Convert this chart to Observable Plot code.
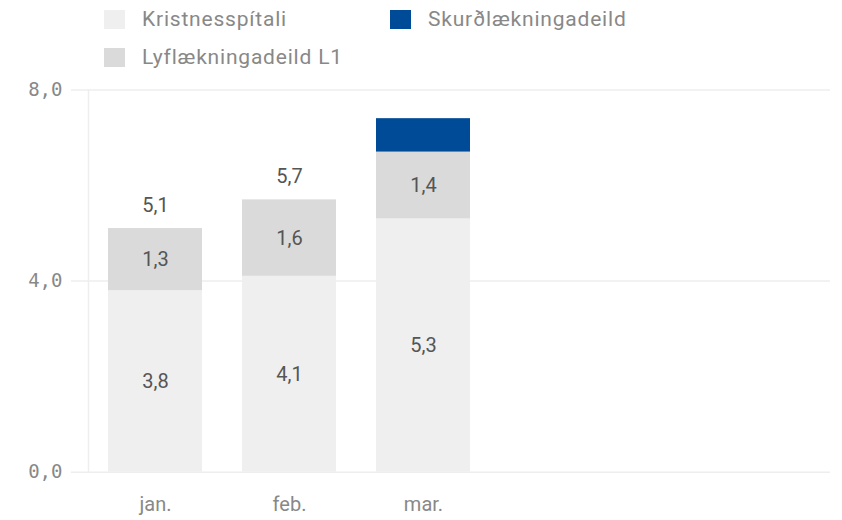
<!DOCTYPE html>
<html>
<head>
<meta charset="utf-8">
<script src="https://cdn.jsdelivr.net/npm/d3@7"></script>
<script src="https://cdn.jsdelivr.net/npm/@observablehq/plot@0.6"></script>
<style>
  html, body { margin: 0; padding: 0; background: #fff; }
  body { width: 842px; height: 520px; overflow: hidden; font-family: Roboto, "Noto Sans", sans-serif; }
  #legend { display: flex; flex-wrap: wrap; padding-left: 104px; height: 72px; box-sizing: border-box; }
  .item { width: 286px; height: 38px; display: flex; align-items: center; color: #888; font-size: 21px; letter-spacing: 0.8px; }
  .sw { width: 21px; height: 19px; margin-right: 17px; flex: none; }
</style>
</head>
<body>
<div id="legend"></div>
<div id="chart"></div>
<script>
const months = ["jan.", "feb.", "mar."];
const seriesNames = ["Kristnesspítali", "Skurðlækningadeild", "Lyflækningadeild L1"];
const stackOrder = ["Kristnesspítali", "Lyflækningadeild L1", "Skurðlækningadeild"];
const seriesColors = ["#efefef", "#004b97", "#dadada"];
const kristnes = [3.8, 4.1, 5.3];
const lyf = [1.3, 1.6, 1.4];
const skurd = [0, 0, 0.7];
const totals = [5.1, 5.7, null];
const yTicks = [0, 4, 8];

const fmt = v => v.toFixed(1).replace(".", ",");

const rows = [];
months.forEach((m, i) => {
  rows.push({month: m, series: "Kristnesspítali", value: kristnes[i], label: true});
  rows.push({month: m, series: "Lyflækningadeild L1", value: lyf[i], label: true});
  rows.push({month: m, series: "Skurðlækningadeild", value: skurd[i], label: false});
});
const totalRows = months.map((m, i) => ({month: m, total: totals[i]})).filter(d => d.total != null);

// legend
const legend = document.getElementById("legend");
seriesNames.forEach((s, i) => {
  const it = document.createElement("div");
  it.className = "item";
  const sw = document.createElement("div");
  sw.className = "sw";
  sw.style.background = seriesColors[i];
  const tx = document.createElement("span");
  tx.textContent = s;
  it.appendChild(sw); it.appendChild(tx);
  legend.appendChild(it);
});

const plot = Plot.plot({
  width: 842,
  height: 448,
  marginTop: 17.5,
  marginBottom: 48.3,
  marginLeft: 88,
  marginRight: 12,
  style: {fontFamily: "Roboto, 'Noto Sans', sans-serif", fontSize: "20px", color: "#888", background: "transparent"},
  x: {domain: months, range: [88, 490], paddingInner: 0.3, paddingOuter: 0.15, label: null},
  y: {domain: [0, 8], label: null},
  color: {domain: seriesNames, range: seriesColors},
  marks: [
    Plot.ruleY(yTicks, {stroke: "#eeeeee", strokeWidth: 1.5, insetLeft: -17}),
    Plot.frame({anchor: "left", stroke: "#eeeeee", strokeWidth: 1.5}),
    Plot.barY(rows, Plot.stackY({x: "month", y: "value", z: "series", fill: "series", order: stackOrder})),
    Plot.text(rows, Plot.stackY({x: "month", y: "value", z: "series", order: stackOrder,
      text: d => d.label ? fmt(d.value) : null, fill: "#555", fontSize: 20})),
    Plot.text(totalRows, {x: "month", y: "total", text: d => fmt(d.total), dy: -23, fill: "#555", fontSize: 20}),
    Plot.axisY({ticks: yTicks, tickFormat: fmt, tickSize: 0, tickPadding: 26, fill: "#888", fontSize: 19}),
    Plot.axisX({tickSize: 0, tickPadding: 25, fill: "#888", fontSize: 20})
  ]
});
document.getElementById("chart").appendChild(plot);
const yl = plot.querySelector('g[aria-label="y-axis tick label"]');
if (yl) yl.setAttribute("font-family", "'DejaVu Sans Mono', monospace");
</script>
</body>
</html>
